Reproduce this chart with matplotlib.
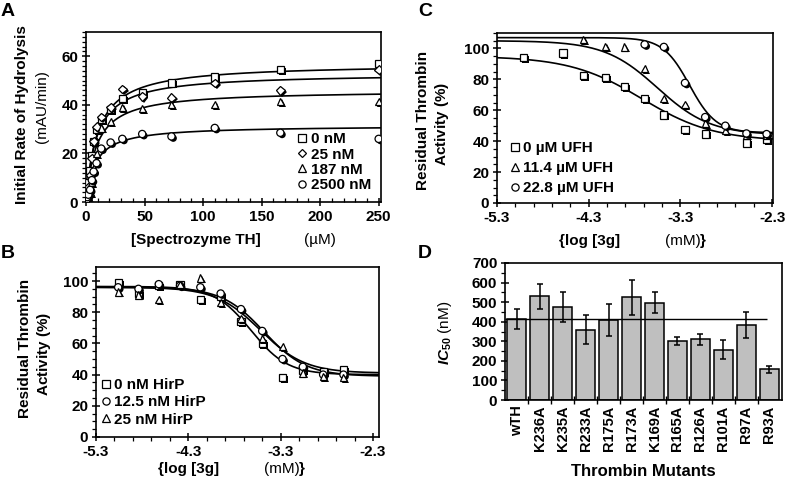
import matplotlib.pyplot as plt
import matplotlib.patheffects as pe
from matplotlib.lines import Line2D
from matplotlib.ticker import MultipleLocator
import numpy as np

# ---- panel A: hydrolysis vs substrate ----
substrate = [0.5, 1, 2, 3.5, 5, 6.5, 9, 13, 21, 31, 48, 73, 110, 166, 250]
rate_0nM = [2, 4, 8, 13, 19, 25, 30, 34, 38, 42.5, 45, 49, 51.5, 54.5, 57]
rate_25nM = [1.5, 3, 6, 11, 18, 25, 31, 35, 39, 46.5, 43.5, 43, 49, 46, 54.5]
rate_187nM = [0.5, 1, 2, 4, 8, 14, 20, 30.5, 33, 39, 38.5, 40, 40, 41.5, 41.5]
rate_2500nM = [1, 2, 3, 5, 9, 12.5, 16, 22, 24.5, 26, 28, 27, 30.5, 28.5, 26]
labels_A = ["0 nM", "25 nM", "187 nM", "2500 nM"]
vmax_A = [57, 53, 46, 31.5]
km_A = [10, 9, 9, 8]

# ---- panel B: HirP ----
logc_B = [-5.06, -4.84, -4.62, -4.39, -4.17, -3.95, -3.73, -3.50, -3.28, -3.06, -2.84, -2.62]
act_B_0 = [99, 92, 97, 98, 88, 90, 74, 60, 38, 43, 42, 43]
act_B_125 = [96, 95, 98, 97, 96, 92, 82, 68, 50, 45, 40, 40]
act_B_25 = [93, 91, 88, 98, 102, 86, 76, 63, 58, 41, 39, 38]
labels_B = ["0 nM HirP", "12.5 nM HirP", "25 nM HirP"]
fit_B = [(96.5, 40, -3.62, 2.2), (96, 39, -3.48, 1.9), (96, 41, -3.52, 1.8)]

# ---- panel C: UFH ----
logc_C_0 = [-5.01, -4.58, -4.36, -4.12, -3.91, -3.69, -3.48, -3.25, -3.03, -2.58, -2.36]
act_C_0 = [94, 97, 82.5, 81, 75.5, 67.5, 57, 47.4, 44.6, 38.8, 41]
logc_C_114 = [-4.36, -4.12, -3.91, -3.69, -3.48, -3.25, -3.03, -2.81, -2.58, -2.36]
act_C_114 = [106, 101.5, 101, 87, 67.5, 63.6, 51.7, 46.7, 44, 44]
logc_C_228 = [-3.69, -3.48, -3.25, -3.03, -2.81, -2.58, -2.36]
act_C_228 = [102.6, 101, 77.7, 55.6, 50, 45, 44.6]
labels_C = ["0 \u00b5M UFH", "11.4 \u00b5M UFH", "22.8 \u00b5M UFH"]
fit_C = [(95, 40, -3.72, 1.1), (105, 44, -3.55, 1.5), (107, 45.5, -3.2, 3.0)]

# ---- panel D: mutants ----
mutants = ["wTH", "K236A", "K235A", "R233A", "R175A", "R173A", "K169A",
           "R165A", "R126A", "R101A", "R97A", "R93A"]
ic50 = [415, 530, 474, 360, 410, 525, 497, 302, 310, 258, 383, 156]
ic50_err = [52, 65, 77, 73, 83, 90, 54, 22, 27, 50, 68, 20]

plt.rcParams['font.family'] = ['Liberation Sans', 'DejaVu Sans']
plt.rcParams['font.weight'] = 'bold'
plt.rcParams['mathtext.fontset'] = 'custom'
plt.rcParams['mathtext.rm'] = 'Liberation Sans:bold'
plt.rcParams['mathtext.it'] = 'Liberation Sans:italic:bold'
plt.rcParams['mathtext.sf'] = 'Liberation Sans'
plt.rcParams['axes.linewidth'] = 1.2

W, H = 787, 483
fig = plt.figure(figsize=(W / 100, H / 100), dpi=100)


def box(l, t, r, b):
    return [l / W, 1 - b / H, (r - l) / W, (b - t) / H]


def ftext(x, y, s, **kw):
    fig.text(x / W, 1 - y / H, s, ha="center", va="center", **kw)


shadow = [pe.SimplePatchShadow(offset=(1.3, -1.3), shadow_rgbFace="black", alpha=1),
          pe.Normal()]
mk_style = dict(ls="none", mfc="white", mec="black", mew=0.9, ms=5.2, path_effects=shadow, zorder=3)


def sigmoid(x, top, bottom, x50, h):
    return bottom + (top - bottom) / (1 + 10 ** ((x - x50) * h))


def style_axes(ax):
    ax.tick_params(which="major", direction="inout", length=6, width=1.1, labelsize=11, pad=2.5)
    ax.tick_params(which="minor", direction="out", length=3, width=0.9)
    for lab in ax.get_xticklabels() + ax.get_yticklabels():
        lab.set_fontweight("bold")


def legend(ax, markers, labels, x, y, gap):
    handles = [Line2D([], [], ls="none", marker=m, mfc="white", mec="black", mew=0.9,
                      ms=4.5 if m == "D" else 5.2)
               for m in markers]
    ax.legend(handles, labels, loc="upper left", bbox_to_anchor=(x, y), frameon=False,
              handlelength=0.5, handletextpad=0.3, labelspacing=gap, borderaxespad=0,
              borderpad=0, prop={"weight": "bold", "size": 11})


# ---- A ----
axA = fig.add_axes(box(86, 32, 381, 202))
xs = np.linspace(0, 252, 400)
for vm, k in zip(vmax_A, km_A):
    axA.plot(xs, vm * xs / (k + xs), color="black", lw=1.2, zorder=2)
for ys, m in zip([rate_0nM, rate_25nM, rate_187nM, rate_2500nM], ["s", "D", "^", "o"]):
    axA.plot(substrate, ys, marker=m, **{**mk_style, "ms": 4.5 if m == "D" else 5.2})
axA.set_xlim(0, 252)
axA.set_ylim(0, 70)
axA.set_xticks(range(0, 251, 50))
axA.xaxis.set_minor_locator(MultipleLocator(10))
axA.yaxis.set_minor_locator(MultipleLocator(2))
style_axes(axA)
axA.tick_params(axis="x", which="minor", direction="in")
legend(axA, ["s", "D", "^", "o"], labels_A, 0.72, 0.41, 0.08)

ftext(22, 115, "Initial Rate of Hydrolysis", rotation=90, fontsize=11)
ftext(42, 107, "(mAU/min)", rotation=90, fontsize=11, fontweight="normal")
ftext(196, 240, "[Spectrozyme TH]", fontsize=11)
ftext(320, 240, "(\u00b5M)", fontsize=11, fontweight="normal")

# ---- B ----
axB = fig.add_axes(box(96, 267, 379, 437))
xl = np.linspace(-5.3, -2.235, 300)
for p in fit_B:
    axB.plot(xl, sigmoid(xl, *p), color="black", lw=1.2, zorder=2)
for ys, m in zip([act_B_0, act_B_125, act_B_25], ["s", "o", "^"]):
    axB.plot(logc_B, ys, marker=m, **mk_style)
axB.set_xlim(-5.3, -2.235)
axB.set_ylim(0, 109)
axB.set_xticks([-5.3, -4.3, -3.3, -2.3])
axB.set_xticklabels(["-5.3", "-4.3", "-3.3", "-2.3"])
axB.xaxis.set_minor_locator(MultipleLocator(0.2, offset=0.1))
axB.set_yticks(range(0, 101, 20))
axB.yaxis.set_minor_locator(MultipleLocator(5))
style_axes(axB)
legend(axB, ["s", "o", "^"], labels_B, 0.022, 0.347, 0.22)

ftext(25, 348, "Residual Thrombin", rotation=90, fontsize=11)
ftext(44, 354, r"Activity $\mathsf{(\%)}$", rotation=90, fontsize=11)
ftext(189, 469, "{log [3g]", fontsize=11)
ftext(282, 469, "(mM)", fontsize=11, fontweight="normal")
ftext(302, 469, "}", fontsize=11)

# ---- C ----
axC = fig.add_axes(box(497, 33, 773, 203))
xl = np.linspace(-5.3, -2.29, 300)
for p in fit_C:
    axC.plot(xl, sigmoid(xl, *p), color="black", lw=1.2, zorder=2)
for xs_, ys, m in zip([logc_C_0, logc_C_114, logc_C_228], [act_C_0, act_C_114, act_C_228],
                      ["s", "^", "o"]):
    axC.plot(xs_, ys, marker=m, **mk_style)
axC.set_xlim(-5.3, -2.29)
axC.set_ylim(0, 110)
axC.set_xticks([-5.3, -4.3, -3.3, -2.3])
axC.set_xticklabels(["-5.3", "-4.3", "-3.3", "-2.3"])
axC.xaxis.set_minor_locator(MultipleLocator(0.2, offset=0.1))
axC.set_yticks(range(0, 101, 20))
axC.yaxis.set_minor_locator(MultipleLocator(5))
style_axes(axC)
legend(axC, ["s", "^", "o"], labels_C, 0.05, 0.365, 0.4)

ftext(423, 120, "Residual Thrombin", rotation=90, fontsize=11)
ftext(442, 124, r"Activity $\mathsf{(\%)}$", rotation=90, fontsize=11)
ftext(590, 241, "{log [3g]", fontsize=11)
ftext(683, 241, "(mM)", fontsize=11, fontweight="normal")
ftext(703, 241, "}", fontsize=11)

# ---- D ----
axD = fig.add_axes(box(505, 263, 782, 400))
pos = np.arange(len(mutants))
axD.bar(pos, ic50, width=0.83, color="#bfbfbf", edgecolor="black", linewidth=1.1, zorder=2)
axD.errorbar(pos, ic50, yerr=ic50_err, fmt="none", ecolor="black", elinewidth=1.1,
             capsize=2.5, capthick=1.1, zorder=3)
axD.hlines(ic50[0], -0.52, 10.9, color="black", lw=1.0, zorder=4)
axD.set_xlim(-0.52, 11.56)
axD.set_ylim(0, 700)
axD.set_xticks(pos)
axD.set_xticklabels(mutants, rotation=90)
axD.set_xticks(pos[:-1] + 0.5, minor=True)
axD.set_yticks(range(0, 701, 100))
axD.yaxis.set_minor_locator(MultipleLocator(50))
style_axes(axD)
axD.tick_params(axis="x", which="major", length=0, pad=4, labelsize=10.5)
axD.tick_params(axis="x", which="minor", direction="inout", length=6, width=1.0)

ftext(445, 333, r"$IC_{50}$ (nM)", rotation=90, fontsize=11, fontweight="normal")
ftext(643, 472, "Thrombin Mutants", fontsize=12)

# panel letters
for s, x, y in [("A", 8, 12), ("B", 8, 253), ("C", 425, 12), ("D", 425, 253)]:
    ftext(x, y, s, fontsize=14)

fig.savefig("out.png", dpi=100)
